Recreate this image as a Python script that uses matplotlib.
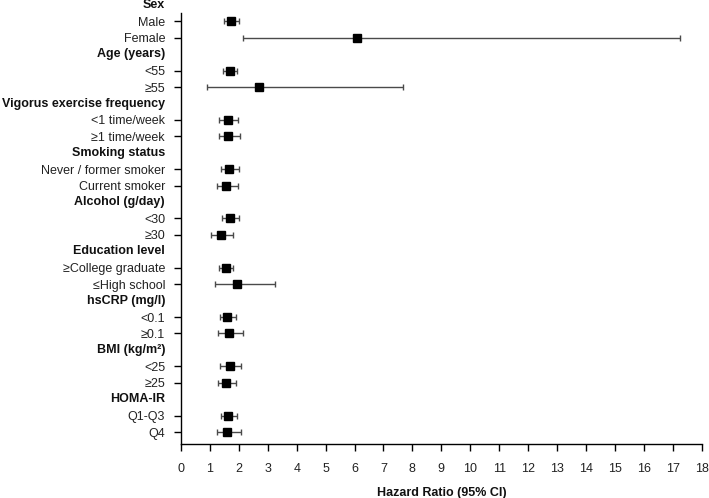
import matplotlib
matplotlib.use("Agg")
import matplotlib.pyplot as plt
import numpy as np

plt.rcParams['font.family'] = ['Liberation Sans', 'DejaVu Sans']

# Rows: header (None values) or subgroup
labels = ["Sex", "Male", "Female",
          "Age (years)", "<55", "≥55",
          "Vigorus exercise frequency", "<1 time/week", "≥1 time/week",
          "Smoking status", "Never / former smoker", "Current smoker",
          "Alcohol (g/day)", "<30", "≥30",
          "Education level", "≥College graduate", "≤High school",
          "hsCRP (mg/l)", "<0.1", "≥0.1",
          "BMI (kg/m²)", "<25", "≥25",
          "HOMA-IR", "Q1-Q3", "Q4"]
is_header = [True, False, False] * 9

hr = [None, 1.74, 6.08, None, 1.68, 2.69, None, 1.61, 1.63, None, 1.67, 1.56,
      None, 1.68, 1.38, None, 1.55, 1.94, None, 1.60, 1.67, None, 1.68, 1.54,
      None, 1.64, 1.60]
lo = [None, 1.49, 2.14, None, 1.45, 0.91, None, 1.32, 1.31, None, 1.38, 1.24,
      None, 1.41, 1.04, None, 1.33, 1.16, None, 1.34, 1.27, None, 1.35, 1.27,
      None, 1.37, 1.24]
hi = [None, 2.01, 17.25, None, 1.93, 7.68, None, 1.98, 2.04, None, 2.01, 1.98,
      None, 2.00, 1.81, None, 1.81, 3.25, None, 1.90, 2.16, None, 2.06, 1.91,
      None, 1.95, 2.06]
xticks = list(range(0, 19))

fig = plt.figure(figsize=(7.09, 4.98), dpi=100)
ax = fig.add_axes([181/709, 1-444/498, (701.7-181)/709, (444-13)/498])

ypos = -np.arange(len(labels))
data_idx = [i for i in range(len(labels)) if not is_header[i]]
y_d = ypos[data_idx]
hr_d = np.array([hr[i] for i in data_idx])
lo_d = np.array([lo[i] for i in data_idx])
hi_d = np.array([hi[i] for i in data_idx])

ax.errorbar(hr_d, y_d, xerr=[hr_d - lo_d, hi_d - hr_d], fmt='none',
            ecolor='#4a4a4a', elinewidth=1.0, capsize=2.4, capthick=1.0)
ax.plot(hr_d, y_d, linestyle='none', marker='s', markersize=5.6, color='black')

ax.set_xlim(0, 18)
ax.set_ylim(-26.73, -0.49)
ax.set_xticks(xticks)
ax.set_xticklabels([str(t) for t in xticks])
ax.set_yticks(y_d)
ax.set_yticklabels([labels[i] for i in data_idx])
ax.tick_params(axis='y', length=5, width=1, pad=6.5, labelsize=9, labelcolor='#222222')
ax.tick_params(axis='x', length=5, width=1, pad=9, labelsize=9, labelcolor='#222222')
ax.tick_params(axis='both', color='black')

for i in range(len(labels)):
    if is_header[i]:
        ax.annotate(labels[i], xy=(0, ypos[i]), xycoords=ax.get_yaxis_transform(),
                    xytext=(-11.5, 0), textcoords='offset points',
                    ha='right', va='center', fontsize=9, fontweight='bold',
                    annotation_clip=False, color='#111111')

ax.set_xlabel("Hazard Ratio (95% CI)", fontsize=9, fontweight='bold', labelpad=8, color='#111111')
for s in ['top', 'right']:
    ax.spines[s].set_visible(False)
ax.spines['left'].set_linewidth(1.0)
ax.spines['bottom'].set_linewidth(1.0)

fig.savefig("out.png", dpi=100)
